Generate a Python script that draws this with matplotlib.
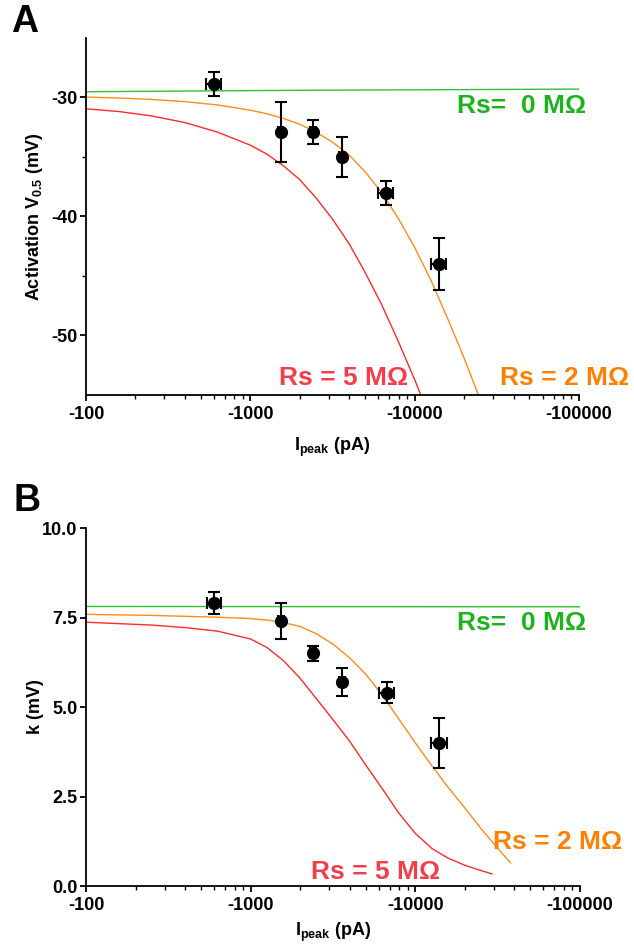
import matplotlib
matplotlib.use("Agg")
import matplotlib.pyplot as plt
from matplotlib.ticker import FixedLocator, FuncFormatter, LogLocator, NullFormatter

plt.rcParams['font.family'] = ['Liberation Sans', 'DejaVu Sans']
plt.rcParams['font.weight'] = 'bold'
plt.rcParams['mathtext.fontset'] = 'custom'
plt.rcParams['mathtext.rm'] = 'Liberation Sans:bold'
plt.rcParams['mathtext.bf'] = 'Liberation Sans:bold'
plt.rcParams['mathtext.it'] = 'Liberation Sans:bold'

# measured points (peak current in pA)
i_peak = [-600, -1530, -2400, -3600, -6700, -14000]
i_peak_err = [60, 60, 100, 150, 700, 1500]
v_half = [-28.9, -32.9, -32.9, -35.0, -38.0, -44.0]
v_half_err = [1.0, 2.5, 1.0, 1.7, 1.0, 2.2]
k_slope = [7.9, 7.4, 6.5, 5.7, 5.4, 4.0]
k_slope_err = [0.3, 0.5, 0.2, 0.4, 0.3, 0.7]

# simulated curves, panel A (V0.5)
a_rs0_i = [-100, -2000, -100000]
a_rs0_v = [-29.52, -29.4, -29.3]
a_rs2_i = [-100, -160, -250, -400, -630, -1000, -1260, -1580, -2000, -2500, -3160, -4000,
           -5000, -6300, -7900, -10000, -12600, -15800, -20000, -24500]
a_rs2_v = [-29.97, -30.05, -30.17, -30.35, -30.63, -31.07, -31.37, -31.75, -32.25, -32.90, -33.75, -34.85,
           -36.25, -38.0, -40.1, -42.6, -45.4, -48.5, -51.9, -55.05]
a_rs5_i = [-100, -160, -250, -400, -630, -1000, -1260, -1580, -2000, -2500, -3160, -4000,
           -5000, -6300, -7900, -10000, -10900]
a_rs5_v = [-30.95, -31.19, -31.55, -32.11, -32.91, -34.01, -34.76, -35.71, -36.91, -38.41, -40.21, -42.31,
           -44.71, -47.41, -50.41, -53.71, -55.0]

# simulated curves, panel B (k)
b_rs0_i = [-100, -100000]
b_rs0_k = [7.81, 7.80]
b_rs2_i = [-100, -250, -630, -1000, -1260, -1580, -2000, -2500, -3160, -4000, -5000, -6300,
           -7900, -10000, -12600, -15800, -20000, -25100, -31600, -37800]
b_rs2_k = [7.59, 7.56, 7.51, 7.47, 7.43, 7.36, 7.25, 7.05, 6.76, 6.37, 5.92, 5.33,
           4.68, 4.00, 3.36, 2.76, 2.18, 1.60, 1.06, 0.65]
b_rs5_i = [-100, -250, -400, -630, -1000, -1260, -1580, -2000, -2500, -3160, -4000, -5000, -6300,
           -7900, -10000, -12600, -15800, -20000, -25100, -29200]
b_rs5_k = [7.37, 7.29, 7.22, 7.12, 6.90, 6.66, 6.30, 5.80, 5.24, 4.65, 4.04, 3.38, 2.72,
           2.05, 1.47, 1.05, 0.78, 0.58, 0.43, 0.34]

GREEN, ORANGE, RED = '#2ec42e', '#ff8c1a', '#ff2a2a'
GREEN_T, ORANGE_T, RED_T = '#1db31d', '#ff8000', '#f23d4a'


def neg(vals):
    return [-v for v in vals]


def style_axes(ax, labelpad):
    ax.set_xscale('log')
    ax.set_xlim(100, 100000)
    ax.spines['top'].set_visible(False)
    ax.spines['right'].set_visible(False)
    for s in ['left', 'bottom']:
        ax.spines[s].set_linewidth(1.3)
    ax.xaxis.set_major_locator(FixedLocator([100, 1000, 10000, 100000]))
    ax.xaxis.set_major_formatter(FuncFormatter(lambda v, p: f'-{int(round(v))}'))
    ax.xaxis.set_minor_locator(LogLocator(base=10, subs=range(2, 10)))
    ax.xaxis.set_minor_formatter(NullFormatter())
    ax.tick_params(which='major', length=4, width=1.3, labelsize=13)
    ax.tick_params(axis='x', which='major', pad=4)
    ax.tick_params(axis='y', which='major', pad=2)
    ax.tick_params(which='minor', length=3, width=1.0)
    ax.set_xlabel(r'$\mathbf{I_{peak}}$ (pA)', fontsize=13, fontweight='bold', labelpad=labelpad)


def draw_points(ax, y, yerr):
    ax.errorbar(neg(i_peak), y, yerr=yerr, xerr=i_peak_err, fmt='o', color='black',
                markersize=8.5, elinewidth=1.5, capsize=4.5, capthick=1.5, zorder=5)


fig = plt.figure(figsize=(6.34, 9.46), dpi=100)
ax_a = fig.add_axes([0.1356, 0.5825, 0.7776, 0.3774])
ax_b = fig.add_axes([0.1356, 0.0634, 0.7792, 0.3784])

# Panel A
ax_a.plot(neg(a_rs0_i), a_rs0_v, color=GREEN, lw=1.0)
ax_a.plot(neg(a_rs2_i), a_rs2_v, color=ORANGE, lw=1.0)
ax_a.plot(neg(a_rs5_i), a_rs5_v, color=RED, lw=1.0)
draw_points(ax_a, v_half, v_half_err)
style_axes(ax_a, 9)
ax_a.set_ylim(-55, -25)
ax_a.yaxis.set_major_locator(FixedLocator([-30, -40, -50]))
ax_a.yaxis.set_minor_locator(FixedLocator([-35, -45]))
ax_a.yaxis.set_major_formatter(FuncFormatter(lambda v, p: f'{int(v)}'))
ax_a.set_ylabel(r'Activation V$_{\mathbf{0.5}}$ (mV)', fontsize=13, fontweight='bold')
ax_a.yaxis.set_label_coords(-0.084, 0.5)
ax_a.text(110000, -30.75, 'Rs=  0 MΩ', color=GREEN_T, fontsize=19, fontweight='bold', ha='right', va='center')
ax_a.text(1490, -53.6, 'Rs = 5 MΩ', color=RED_T, fontsize=19, fontweight='bold', ha='left', va='center')
ax_a.text(32900, -53.6, 'Rs = 2 MΩ', color=ORANGE_T, fontsize=19, fontweight='bold', ha='left', va='center')

# Panel B
ax_b.plot(neg(b_rs0_i), b_rs0_k, color=GREEN, lw=1.0)
ax_b.plot(neg(b_rs2_i), b_rs2_k, color=ORANGE, lw=1.0)
ax_b.plot(neg(b_rs5_i), b_rs5_k, color=RED, lw=1.0)
draw_points(ax_b, k_slope, k_slope_err)
style_axes(ax_b, 5)
ax_b.set_ylim(0, 10)
ax_b.yaxis.set_major_locator(FixedLocator([0, 2.5, 5, 7.5, 10]))
ax_b.yaxis.set_major_formatter(FuncFormatter(lambda v, p: f'{v:.1f}'))
ax_b.set_ylabel('k (mV)', fontsize=13, fontweight='bold')
ax_b.yaxis.set_label_coords(-0.084, 0.5)
ax_b.text(17900, 7.35, 'Rs=  0 MΩ', color=GREEN_T, fontsize=19, fontweight='bold', ha='left', va='center')
ax_b.text(29600, 1.23, 'Rs = 2 MΩ', color=ORANGE_T, fontsize=19, fontweight='bold', ha='left', va='center')
ax_b.text(2320, 0.39, 'Rs = 5 MΩ', color=RED_T, fontsize=19, fontweight='bold', ha='left', va='center')

for axis in (ax_a, ax_b):
    for lab in axis.get_xticklabels() + axis.get_yticklabels():
        lab.set_fontweight('bold')

fig.text(0.018, 1 - 22 / 946, 'A', fontsize=27, fontweight='bold', va='center', ha='left')
fig.text(0.021, 1 - 501 / 946, 'B', fontsize=27, fontweight='bold', va='center', ha='left')

fig.savefig('out.png', dpi=100)
